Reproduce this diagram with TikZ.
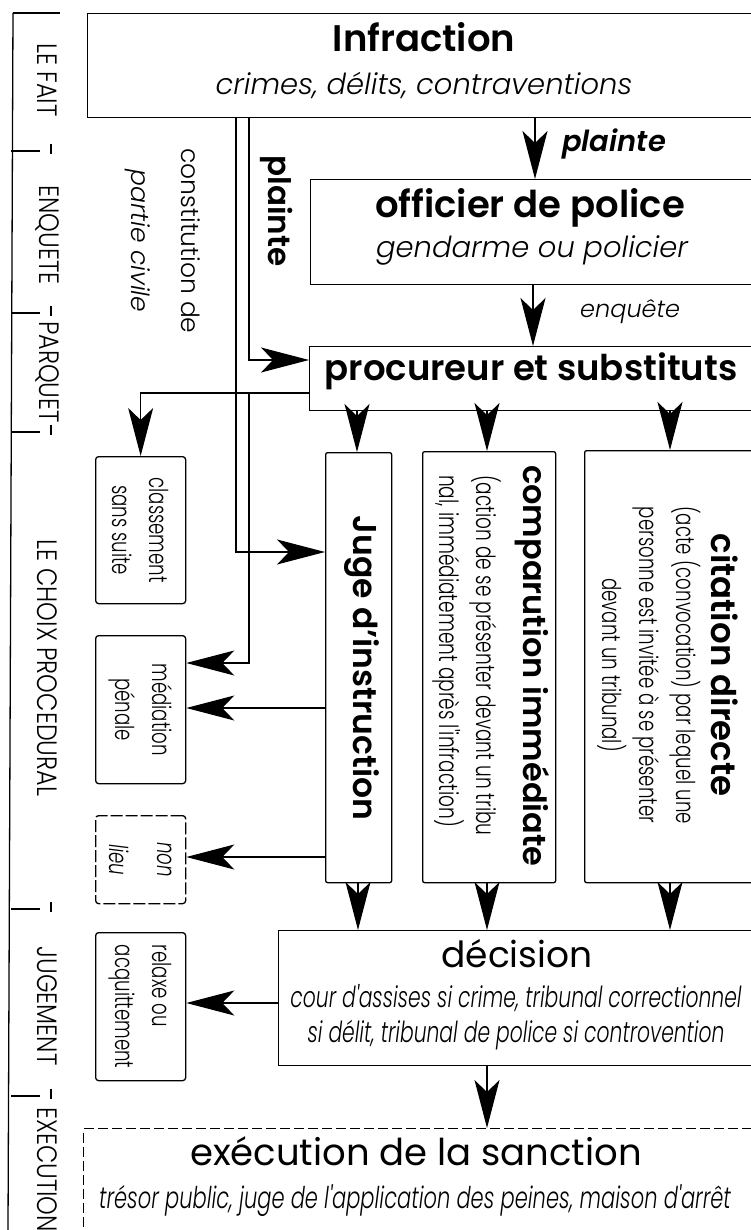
\documentclass[tikz,border=0pt]{standalone}
\usepackage{fontspec}
\setmainfont{Poppins}[BoldFont={Poppins SemiBold},ItalicFont={Poppins Light Italic},BoldItalicFont={Poppins SemiBold Italic}]
\newfontfamily\lightf{Poppins Light}[ItalicFont={Poppins Light Italic}]
\newfontfamily\condf{Poppins Light}[FakeStretch=0.7]
\newfontfamily\condi{Poppins Light Italic}[FakeStretch=0.7]
\newfontfamily\tlf{Poppins Light}[FakeStretch=0.85]
\usetikzlibrary{arrows.meta}
\newcommand\fsz[1]{\fontsize{#1}{#1}\selectfont}
\begin{document}
\begin{tikzpicture}[x=1pt,y=-1pt,
  box/.style={draw,line width=1.3pt,anchor=north west,inner sep=0pt},
  sbox/.style={box,rounded corners=3pt,minimum width=90pt},
  ln/.style={line width=1.3pt},
  ar/.style={line width=1.3pt,-{Stealth[length=48pt,width=25pt,inset=12pt]}},
  tl/.style={rotate=-90,inner sep=0pt,font=\tlf\fsz{28}},
  vt/.style={rotate=-90,inner sep=0pt},
  tx/.style={inner sep=0pt}]
\useasboundingbox (0,0) rectangle (751,1230);
\clip (0,0) rectangle (751,1230);
\fill[white] (0,0) rectangle (751,1230);

% timeline
\draw[ln] (13,13) -- (8,1230);
\draw[ln] (13,13) -- (60,13);
\foreach \yy in {151,313,432,909,1096}{
  \draw[ln] (11,\yy) -- (40,\yy);
  \draw[ln] (51,\yy-7) -- (51,\yy+3);
}
\node[tl] (fait) at (47,80) {LE FAIT};
\node[tl] (enq) at (47,235) {ENQUETE};
\node[tl] (parq) at (47,372) {PARQUET};
\node[tl] (choix) at (47,668) {LE CHOIX PROCEDURAL};
\node[tl] (jug) at (47,1006) {JUGEMENT};
\node[tl,anchor=west] (exec) at (47,1107) {EXECUTION};

% boxes
\node[box,minimum width=700pt,minimum height=104pt] (inf) at (87,13) {};
\node[box,minimum width=480pt,minimum height=105pt] (off) at (310,179) {};
\node[box,minimum width=480pt,minimum height=64pt] (proc) at (309,346) {};
\node[sbox,minimum height=147pt] (cls) at (95,456) {};
\node[sbox,minimum height=148pt] (med) at (95,635) {};
\node[sbox,minimum height=88pt,dash pattern=on 12pt off 3pt] (nl) at (95,815) {};
\node[sbox,minimum height=148pt] (rel) at (95,932) {};
\node[box,rounded corners=2pt,minimum width=66pt,minimum height=430pt] (juge) at (325,452) {};
\node[box,rounded corners=2pt,minimum width=133pt,minimum height=431pt] (comp) at (422,451) {};
\node[box,rounded corners=2pt,minimum width=300pt,minimum height=432pt] (cit) at (584,450) {};
\node[box,minimum width=600pt,minimum height=135pt] (dec) at (278,930) {};
\node[box,dash pattern=on 10pt off 4pt,minimum width=700pt,minimum height=150pt] (exe) at (83,1128) {};

% texts
\node[tx,font=\bfseries\fsz{37},anchor=base] (tinf) at (424,52) {Infraction};
\node[tx,font=\itshape\fsz{29},anchor=base] (tinf2) at (424,95) {crimes, délits, contraventions};
\node[tx,font=\bfseries\itshape\fsz{29},anchor=base west] (lpl) at (562,152) {plainte};
\node[tx,font=\bfseries\fsz{37},anchor=base] (toff) at (530,218) {officier de police};
\node[tx,font=\itshape\fsz{29},anchor=base] (toff2) at (532,258) {gendarme ou policier};
\node[tx,font=\itshape\fsz{24},anchor=base west] (lenq) at (580,317) {enquête};
\node[tx,font=\bfseries\fsz{35.5},anchor=base] (tproc) at (531,380) {procureur et substituts};

\node[vt,font=\bfseries\fsz{31}] (lpl2) at (277,211) {plainte};
\node[vt,align=center,font=\lightf\fontsize{25}{50}\selectfont] (lcpc) at (163,241) {constitution de\\{\itshape partie civile}};

\node[vt,font=\bfseries\fsz{33}] (tjuge) at (362,668) {Juge d'instruction};
\node[vt,anchor=west,font=\bfseries\fsz{32}] (tcomp) at (532,465) {comparution immédiate};
\node[vt,anchor=west,font=\condf\fsz{26.5}] (tcomp2) at (485,475) {(action de se présenter devant un tribu};
\node[vt,anchor=west,font=\condf\fsz{26.5}] (tcomp3) at (448,475) {nal, immédiatement après l'infraction)};
\node[vt,font=\bfseries\fsz{34}] (tcit) at (725,665) {citation directe};
\node[vt,align=center,font=\condf\fontsize{26}{37}\selectfont] (tcit2) at (649,665) {(acte (convocation) par lequel une\\personne est invitée à se présenter\\devant un tribunal)};

\node[vt,align=center,font=\condf\fontsize{26}{37}\selectfont] (tcls) at (cls.center) {classement\\sans suite};
\node[vt,align=center,font=\condf\fontsize{26}{37}\selectfont] (tmed) at (med.center) {médiation\\pénale};
\node[vt,align=center,font=\condi\fontsize{26}{48}\selectfont] (tnl) at (nl.center) {non\\lieu};
\node[vt,align=left,font=\condf\fontsize{26}{37}\selectfont] (trel) at (rel.center) {relaxe ou\\acquittement};

\node[tx,font=\fsz{36},anchor=base] (tdec) at (517,967) {décision};
\node[tx,font=\condi\fsz{29},anchor=base] (tdec2) at (516,1007) {cour d'assises si crime, tribunal correctionnel};
\node[tx,font=\condi\fsz{29},anchor=base] (tdec3) at (516,1042) {si délit, tribunal de police si controvention};
\node[tx,font=\fsz{37},anchor=base] (texe) at (416,1165) {exécution de la sanction};
\node[tx,font=\condi\fsz{30},anchor=base] (texe2) at (415,1208) {trésor public, juge de l'application des peines, maison d'arrêt};

% connectors
\coordinate (jp) at (249,393);
\draw[ar] (535,0 |- inf.south) -- (535,0 |- off.north);
\draw[ar] (533,0 |- off.south) -- (533,0 |- proc.north);
\draw[ar] (249,0 |- inf.south) |- (proc.west |- 0,360);
\draw[ar] (236,0 |- inf.south) |- (juge.west |- 0,552);
\draw[ar] (proc.west |- 0,393) -| (cls.north);
\draw[ar] (jp) |- (med.east |- 0,663);
\draw[ar] (juge.west |- 0,708) -- (med.east |- 0,708);
\draw[ar] (juge.west |- 0,857) -- (nl.east |- 0,857);
\draw[ar] (357,0 |- proc.south) -- (357,0 |- juge.north);
\draw[ar] (487,0 |- proc.south) -- (487,0 |- comp.north);
\draw[ar] (670,0 |- proc.south) -- (670,0 |- cit.north);
\draw[ar] (358,0 |- juge.south) -- (358,0 |- dec.north);
\draw[ar] (487,0 |- comp.south) -- (487,0 |- dec.north);
\draw[ar] (670,0 |- cit.south) -- (670,0 |- dec.north);
\draw[ar] (dec.west |- 0,1003) -- (rel.east |- 0,1003);
\draw[ar] (487,0 |- dec.south) -- (487,0 |- exe.north);
\end{tikzpicture}
\end{document}
